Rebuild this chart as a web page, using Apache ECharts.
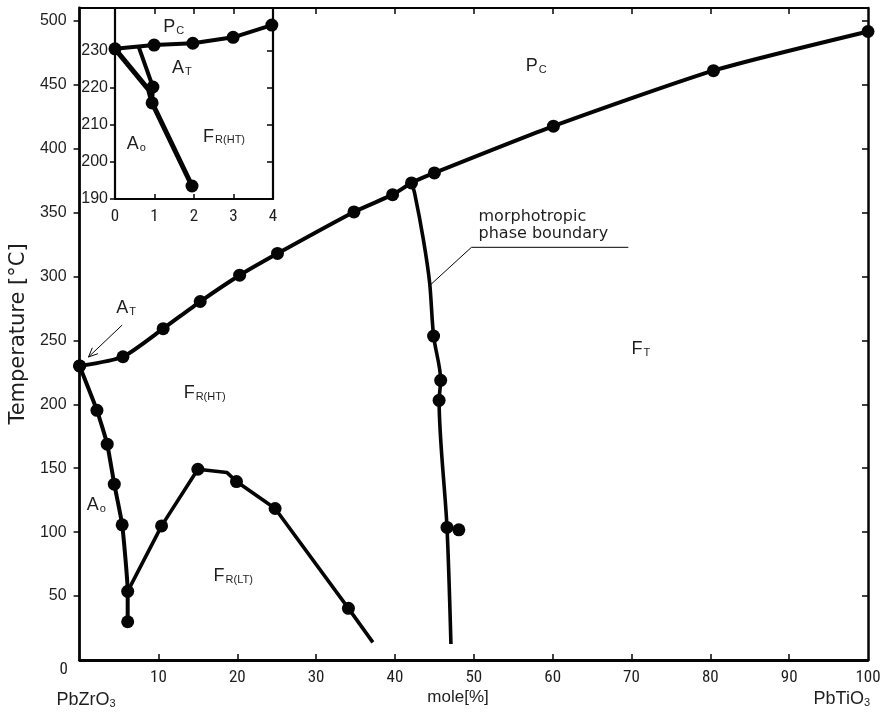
<!DOCTYPE html>
<html>
<head>
<meta charset="utf-8">
<script src="https://cdn.jsdelivr.net/npm/echarts@6/dist/echarts.min.js"></script>
<style>
  html, body { margin: 0; padding: 0; background: #fff; }
  #chart { width: 885px; height: 718px; }
</style>
</head>
<body>
<div id="chart"></div>
<script>
// PbZrO3 – PbTiO3 phase diagram with an enlarged view of the PbZrO3-rich corner.

// ---- main diagram: mole % PbTiO3 vs temperature (°C) ----
const curieLine   = [[0,230],[5.5,237.2],[10.6,259.2],[15.3,280.4],[20.3,301],[25.1,318],[34.8,350.5],[39.7,364],[42.1,373.2],[45.0,381],[60.1,417.6],[80.4,461],[100,491.6]];
const mpbLine     = [[42.1,373.2],[42.5,365],[43.6,329],[44.4,295],[44.9,253.4],[45.8,218.8],[45.6,203.1],[46.6,103.7],[47.1,12.5]];
const mpbDots     = [[44.9,253.4],[45.8,218.8],[45.6,203.1],[46.6,103.7],[48.1,101.8]];
const orthoLine   = [[0,230],[2.2,195.3],[3.5,168.8],[4.4,137.5],[5.4,105.7],[6.1,53.7],[6.1,29.9]];
const rhombLtLine = [[6.1,53.7],[10.4,104.9],[15.0,149.2],[18.7,146.6],[19.9,139.6],[24.8,118.5],[34.1,40.4],[37.2,13.8]];
const rhombLtDots = [[10.4,104.9],[15.0,149.2],[19.9,139.6],[24.8,118.5],[34.1,40.4]];

// ---- inset: 0–4 mole % PbTiO3, 190–240 °C ----
const insetCurie = [[0,230.5],[0.99,231.5],[1.97,232],[2.99,233.6],[3.97,236.9]];
const insetTetra = [[0.6,231],[0.96,220.2],[0.94,215.9]];
const insetOrtho = [[0,230.5],[0.85,219.5],[0.94,215.9],[1.95,193.5]];
const insetDots  = [[0.96,220.2],[0.94,215.9],[1.95,193.5]];

// ---- tick values ----
const xLabelValues     = [10,20,30,40,50,60,70,80,90,100];
const xTickValues      = [10,20,30,40,50,60,70,80,90];
const xTopTickValues   = [30,40,50,60,70,80,90];
const yTickValues      = [50,100,150,200,250,300,350,400,450,500];
const insetXLabelValues = [0,1,2,3,4];
const insetXTickValues  = [1,2,3];
const insetYLabelValues = [190,200,210,220,230];
const insetYRightTicks  = [200,210,220,230];

const ink = '#050505';
const textInk = '#1e1e1e';
const narrow = "'Liberation Sans Narrow', 'Arial Narrow', 'Roboto Condensed', 'DejaVu Sans Condensed', sans-serif";
const sans = "'Liberation Sans', Arial, sans-serif";

const chart = echarts.init(document.getElementById('chart'), null, { renderer: 'canvas' });

function curve(data, xi, yi, width, smooth) {
  return { type: 'line', data, xAxisIndex: xi, yAxisIndex: yi, symbol: 'none', showSymbol: false,
           smooth, lineStyle: { color: ink, width }, silent: true, z: 3 };
}
function dots(data, xi, yi, size) {
  return { type: 'scatter', data, xAxisIndex: xi, yAxisIndex: yi, symbol: 'circle', symbolSize: size,
           itemStyle: { color: ink, opacity: 1 }, silent: true, z: 4 };
}

const axisLineStyle = w => ({ show: true, onZero: false, lineStyle: { color: ink, width: w } });

chart.setOption({
  animation: false,
  backgroundColor: '#fff',
  grid: [
    { left: 73, right: 17, top: 8, bottom: 58, show: false },
    { left: 115, top: 8, width: 158, height: 191, show: true, backgroundColor: '#fff', borderWidth: 0 }
  ],
  xAxis: [
    { gridIndex: 0, type: 'value', position: 'bottom', min: 0, max: 100, interval: 10,
      axisLine: axisLineStyle(2.8),
      axisTick: { inside: true, length: 6, customValues: xTickValues, lineStyle: { color: ink, width: 1.5 } },
      axisLabel: { customValues: xLabelValues, margin: 9, fontSize: 17, fontFamily: narrow, color: textInk },
      splitLine: { show: false } },
    { gridIndex: 0, type: 'value', position: 'top', min: 0, max: 100, interval: 10,
      axisLine: axisLineStyle(2.2),
      axisTick: { inside: true, length: 6, customValues: xTopTickValues, lineStyle: { color: ink, width: 1.5 } },
      axisLabel: { show: false }, splitLine: { show: false } },
    { gridIndex: 1, type: 'value', position: 'bottom', min: 0, max: 4, interval: 1,
      axisLine: axisLineStyle(2.2),
      axisTick: { inside: true, length: 5, customValues: insetXTickValues, lineStyle: { color: ink, width: 1.5 } },
      axisLabel: { customValues: insetXLabelValues, margin: 9, fontSize: 17, fontFamily: narrow, color: textInk },
      splitLine: { show: false } },
    { gridIndex: 1, type: 'value', position: 'top', min: 0, max: 4, interval: 1,
      axisLine: { show: false },
      axisTick: { inside: true, length: 6, customValues: insetXTickValues, lineStyle: { color: ink, width: 1.5 } },
      axisLabel: { show: false }, splitLine: { show: false } }
  ],
  yAxis: [
    { gridIndex: 0, type: 'value', position: 'left', min: 0, max: 510,
      name: 'Temperature [°C]', nameLocation: 'middle', nameGap: 46, nameRotate: 90,
      nameTextStyle: { fontSize: 21, fontFamily: "'DejaVu Sans', sans-serif", color: textInk },
      axisLine: axisLineStyle(2.8),
      axisTick: { inside: false, length: 6, customValues: yTickValues, lineStyle: { color: ink, width: 1.5 } },
      axisLabel: { customValues: yTickValues, margin: 13, fontSize: 16, fontFamily: sans, color: textInk },
      splitLine: { show: false } },
    { gridIndex: 0, type: 'value', position: 'right', min: 0, max: 510,
      axisLine: axisLineStyle(2.5),
      axisTick: { inside: true, length: 6, customValues: yTickValues, lineStyle: { color: ink, width: 1.5 } },
      axisLabel: { show: false }, splitLine: { show: false } },
    { gridIndex: 1, type: 'value', position: 'left', min: 190, max: 241.5,
      axisLine: axisLineStyle(2.2),
      axisTick: { inside: false, length: 5, customValues: insetYLabelValues, lineStyle: { color: ink, width: 1.5 } },
      axisLabel: { customValues: insetYLabelValues, margin: 7, fontSize: 16, fontFamily: sans, color: textInk },
      splitLine: { show: false } },
    { gridIndex: 1, type: 'value', position: 'right', min: 190, max: 241.5,
      axisLine: axisLineStyle(2.2),
      axisTick: { inside: true, length: 6, customValues: insetYRightTicks, lineStyle: { color: ink, width: 1.5 } },
      axisLabel: { show: false }, splitLine: { show: false } }
  ],
  series: [
    curve(curieLine, 0, 0, 4, 0.2),
    dots(curieLine, 0, 0, 13),
    curve(mpbLine, 0, 0, 3.6, 0.3),
    dots(mpbDots, 0, 0, 13),
    curve(orthoLine, 0, 0, 4, 0.15),
    dots(orthoLine, 0, 0, 13),
    curve(rhombLtLine, 0, 0, 3.6, 0),
    dots(rhombLtDots, 0, 0, 13),
    curve(insetCurie, 2, 2, 4, 0),
    dots(insetCurie, 2, 2, 13),
    curve(insetTetra, 2, 2, 4, 0),
    curve(insetOrtho, 2, 2, 5, 0),
    dots(insetDots, 2, 2, 13)
  ]
});

// ---- annotations, anchored in data coordinates ----
const toMain  = p => chart.convertToPixel({ xAxisIndex: 0, yAxisIndex: 0 }, p);
const toInset = p => chart.convertToPixel({ xAxisIndex: 2, yAxisIndex: 2 }, p);

function phaseLabel(main, sub, px) {
  return {
    type: 'text', x: px[0], y: px[1], silent: true, z: 10,
    style: {
      text: '{m|' + main + '}{s|' + sub + '}',
      align: 'left', verticalAlign: 'middle',
      rich: {
        m: { fontSize: 18, fontFamily: sans, fill: textInk, verticalAlign: 'bottom', lineHeight: 20 },
        s: { fontSize: 11, fontFamily: sans, fill: textInk, verticalAlign: 'bottom', lineHeight: 20, padding: [0, 0, 0, 1] }
      }
    }
  };
}

function plainText(text, px, align, size, family) {
  return { type: 'text', x: px[0], y: px[1], silent: true, z: 10,
           style: { text, align, verticalAlign: 'middle', fontSize: size, fontFamily: family, fill: textInk } };
}

function subText(main, sub, px, align) {
  return {
    type: 'text', x: px[0], y: px[1], silent: true, z: 10,
    style: {
      text: '{m|' + main + '}{s|' + sub + '}',
      align, verticalAlign: 'middle',
      rich: {
        m: { fontSize: 18, fontFamily: sans, fill: textInk, verticalAlign: 'bottom', lineHeight: 20 },
        s: { fontSize: 11, fontFamily: sans, fill: textInk, verticalAlign: 'bottom', lineHeight: 18 }
      }
    }
  };
}

function polyline(points, width) {
  return { type: 'polyline', silent: true, z: 10, shape: { points },
           style: { stroke: ink, lineWidth: width, fill: null } };
}

// arrow pointing at the tetragonal antiferroelectric pocket
const arrowTail = toMain([5.4, 262]);
const arrowTip  = toMain([1.13, 237]);
const ang = Math.atan2(arrowTail[1] - arrowTip[1], arrowTail[0] - arrowTip[0]);
const headLen = 10, spread = 0.42;
const head = [
  [arrowTip[0] + headLen * Math.cos(ang - spread), arrowTip[1] + headLen * Math.sin(ang - spread)],
  arrowTip,
  [arrowTip[0] + headLen * Math.cos(ang + spread), arrowTip[1] + headLen * Math.sin(ang + spread)]
];

const origin = toMain([0, 0]);
const xEnd = toMain([100, 0]);
const moleAt = toMain([48, 0]);
const mpbTextAt = toMain([50.6, 353]);

chart.setOption({
  graphic: [
    phaseLabel('P', 'C', toMain([56.6, 465.4])),
    phaseLabel('F', 'T', toMain([70.0, 244])),
    phaseLabel('A', 'T', toMain([4.65, 276])),
    phaseLabel('F', 'R(HT)', toMain([13.2, 209.6])),
    phaseLabel('A', 'o', toMain([0.9, 122])),
    phaseLabel('F', 'R(LT)', toMain([17.0, 66.5])),
    phaseLabel('P', 'C', toInset([1.22, 236.6])),
    phaseLabel('A', 'T', toInset([1.44, 225.6])),
    phaseLabel('A', 'o', toInset([0.3, 205.1])),
    phaseLabel('F', 'R(HT)', toInset([2.23, 207])),
    {
      type: 'text', x: mpbTextAt[0], y: mpbTextAt[1], silent: true, z: 10,
      style: { text: 'morphotropic\nphase boundary', align: 'left', verticalAlign: 'top',
               fontSize: 16, lineHeight: 17, fontFamily: "'DejaVu Sans', sans-serif", fill: textInk }
    },
    polyline([toMain([44.47, 293.3]), toMain([49.7, 322.8]), toMain([69.6, 322.8])], 1),
    polyline([arrowTail, arrowTip], 1),
    polyline(head, 1),
    plainText('0', [origin[0] - 16, origin[1] + 10], 'center', 17, narrow),
    subText('PbZrO', '3', [origin[0] - 23, origin[1] + 39], 'left'),
    subText('PbTiO', '3', [xEnd[0] + 2, xEnd[1] + 38], 'right'),
    plainText('mole[%]', [moleAt[0], moleAt[1] + 37], 'center', 17, sans)
  ]
});
</script>
</body>
</html>
